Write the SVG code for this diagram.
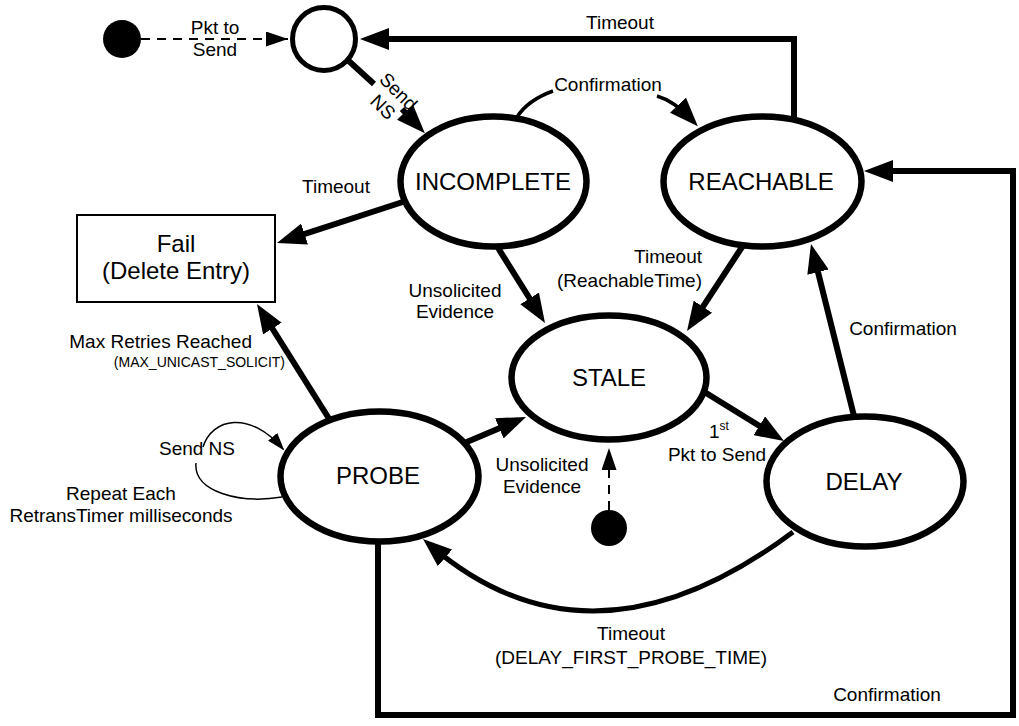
<svg xmlns="http://www.w3.org/2000/svg" width="1019" height="726" viewBox="0 0 1019 726">
<style>
text{font-family:"Liberation Sans",Arial,sans-serif;fill:#000}
.lbl{font-size:19px}
.st{font-size:24px;text-anchor:middle}
.node{fill:#fff;stroke:#000;stroke-width:6.5}
.c{fill:none;stroke:#000;stroke-width:6}
.cm{fill:none;stroke:#000;stroke-width:3.5}
.ct{fill:none;stroke:#000;stroke-width:1.5}
.cd{fill:none;stroke:#000;stroke-width:2;stroke-dasharray:9,7}
</style>
<defs>
<marker id="ah" viewBox="0 0 29 22" refX="19" refY="11" markerWidth="29" markerHeight="22" markerUnits="userSpaceOnUse" orient="auto"><path d="M0,0 L29,11 L0,22 z" fill="#000"/></marker>
<marker id="ad" viewBox="0 0 22 15" refX="22" refY="7.5" markerWidth="22" markerHeight="15" markerUnits="userSpaceOnUse" orient="auto"><path d="M0,0 L22,7.5 L0,15 z" fill="#000"/></marker>
<marker id="as" viewBox="0 0 18 12" refX="16" refY="6" markerWidth="18" markerHeight="12" markerUnits="userSpaceOnUse" orient="auto"><path d="M0,0 L18,6 L0,12 z" fill="#000"/></marker>
</defs>
<g id="connectors">
<path class="cd" d="M141,39 L288,39" marker-end="url(#ad)"/>
<path class="c" d="M340,53 L374,84"/>
<path class="c" d="M402,109 L418,126" marker-end="url(#ah)"/>
<path class="c" d="M794,125 L794,39 L370,39" marker-end="url(#ah)"/>
<path class="cm" d="M517,117 Q528,100 553,91"/>
<path class="cm" d="M657,96 Q674,101 691,119" marker-end="url(#ah)"/>
<path class="c" d="M415,198 L286.5,239.9" marker-end="url(#ah)"/>
<path class="c" d="M490,235 L539.7,314.5" marker-end="url(#ah)"/>
<path class="c" d="M746,241 L692.5,322.6" marker-end="url(#ah)"/>
<path class="c" d="M698,388 L775.5,435.8" marker-end="url(#ah)"/>
<path class="c" d="M857,428 L813.4,253.7" marker-end="url(#ah)"/>
<path class="c" d="M455,447 L516.8,420.9" marker-end="url(#ah)"/>
<path class="c" d="M333,425 L262.3,312.5" marker-end="url(#ah)"/>
<path class="ct" d="M203,447 C212,418 250,410 283,449" marker-end="url(#as)"/>
<path class="ct" d="M196,463 C193,492 240,504 282,497"/>
<path class="c" style="stroke-width:5" d="M793,532 Q591,683 430.6,545.5" marker-end="url(#ah)"/>
<path class="c" d="M378,530 L378,715 L1013,715 L1013,171 L874,171" marker-end="url(#ah)"/>
<path class="cd" d="M609,510 L609,448" marker-end="url(#ad)"/>
</g>
<g id="start-top"><circle cx="122" cy="39" r="19" fill="#000"/></g>
<g id="start-bottom"><circle cx="609" cy="528" r="18" fill="#000"/></g>
<g id="idle"><circle class="node" cx="324" cy="39" r="31.5" style="stroke-width:5"/></g>
<g id="incomplete"><ellipse class="node" cx="493.5" cy="181.5" rx="93" ry="65"/><text class="st" x="493" y="190">INCOMPLETE</text></g>
<g id="reachable"><ellipse class="node" cx="762.5" cy="181.5" rx="99" ry="65"/><text class="st" x="761" y="190">REACHABLE</text></g>
<g id="stale"><ellipse class="node" cx="609" cy="377.5" rx="97.5" ry="62"/><text class="st" x="609" y="386">STALE</text></g>
<g id="probe"><ellipse class="node" cx="379.5" cy="476.5" rx="99" ry="65"/><text class="st" x="378" y="484">PROBE</text></g>
<g id="delay"><ellipse class="node" cx="865" cy="481.5" rx="98.5" ry="65"/><text class="st" x="864" y="490">DELAY</text></g>
<g id="fail"><rect x="77" y="215" width="198" height="87" fill="#fff" stroke="#000" stroke-width="2"/><text class="st" x="176" y="252">Fail</text><text class="st" x="176" y="279">(Delete Entry)</text></g>
<g id="labels" class="lbl">
<text x="215" y="34" text-anchor="middle">Pkt to</text>
<text x="215" y="56" text-anchor="middle">Send</text>
<g transform="translate(391,99) rotate(45)"><text x="0" y="-4" text-anchor="middle">Send</text><text x="0" y="18" text-anchor="middle">NS</text></g>
<text x="620" y="29" text-anchor="middle">Timeout</text>
<text x="608" y="91" text-anchor="middle">Confirmation</text>
<text x="336" y="193" text-anchor="middle">Timeout</text>
<text x="455" y="297" text-anchor="middle">Unsolicited</text>
<text x="455" y="318" text-anchor="middle">Evidence</text>
<text x="702" y="263" text-anchor="end">Timeout</text>
<text x="702" y="287" text-anchor="end">(ReachableTime)</text>
<text x="903" y="335" text-anchor="middle">Confirmation</text>
<text x="709" y="438">1<tspan font-size="12" dy="-8">st</tspan></text>
<text x="717" y="461" text-anchor="middle">Pkt to Send</text>
<text x="542" y="471" text-anchor="middle">Unsolicited</text>
<text x="542" y="493" text-anchor="middle">Evidence</text>
<text x="252" y="348" text-anchor="end">Max Retries Reached</text>
<text x="285" y="367" text-anchor="end" font-size="14">(MAX_UNICAST_SOLICIT)</text>
<text x="197" y="455" text-anchor="middle">Send NS</text>
<text x="121" y="500" text-anchor="middle">Repeat Each</text>
<text x="121" y="522" text-anchor="middle">RetransTimer milliseconds</text>
<text x="631" y="640" text-anchor="middle">Timeout</text>
<text x="631" y="664" text-anchor="middle">(DELAY_FIRST_PROBE_TIME)</text>
<text x="887" y="701" text-anchor="middle">Confirmation</text>
</g>
</svg>
